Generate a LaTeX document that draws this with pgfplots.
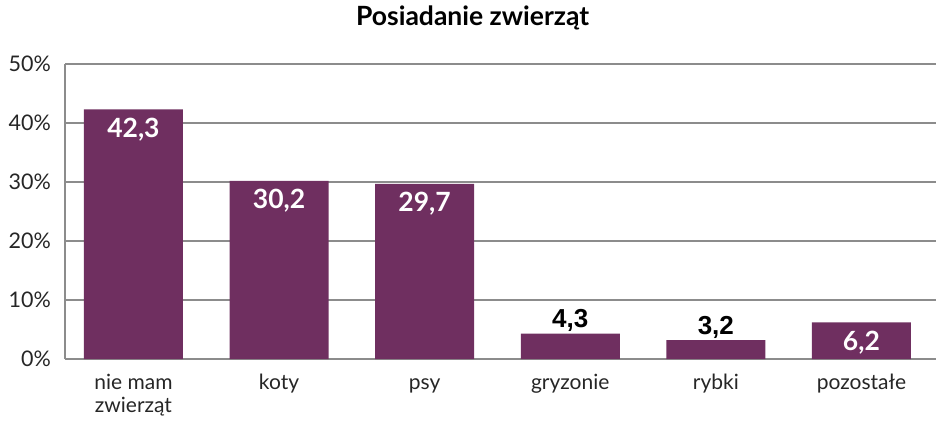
\documentclass[border=0pt]{standalone}
\usepackage{fontspec}
\setmainfont{Lato}
\newfontfamily\arialbf{Liberation Sans}
\usepackage{pgfplots}
\pgfplotsset{compat=1.18}
\definecolor{barc}{HTML}{6F2F60}
\definecolor{gridc}{HTML}{8C8C8C}
\begin{document}
\begin{tikzpicture}
\useasboundingbox (0,0) rectangle (936pt,440pt);
\begin{axis}[
  at={(65pt,81pt)}, anchor=south west,
  scale only axis, width=871pt, height=295pt,
  xmin=-0.47, xmax=5.512, ymin=0, ymax=50,
  ytick={0,10,20,30,40,50},
  yticklabels={0\%,10\%,20\%,30\%,40\%,50\%},
  xtick={0,1,2,3,4,5},
  xticklabels={{\strut nie mam\\zwierząt},\strut koty,\strut psy,\strut gryzonie,\strut rybki,\strut pozostałe},
  xticklabel style={align=center, font=\fontsize{21}{23}\selectfont, text=black!85},
  yticklabel style={font=\fontsize{21.5}{24}\selectfont, text=black!85},
  major tick length=0pt,
  xtick style={draw=none}, ytick style={draw=none},
  ymajorgrids, grid style={gridc, line width=1.5pt},
  axis x line*=bottom, axis y line*=left,
  axis line style={gridc, line width=1.5pt, -},
  x tick label style={yshift=-10.5pt},
  y tick label style={xshift=-10.7pt},
  title={\bfseries Posiadanie zwierząt},
  title style={font=\fontsize{26.5}{30}\selectfont, at={(0.468,1)}, anchor=base, yshift=33pt},
  ybar, bar width=99pt,
  clip=false,
]
\addplot[fill=barc, draw=none, bar shift=0pt,
  point meta=explicit symbolic,
  nodes near coords,
  nodes near coords style={anchor=base, text=white, font=\fontsize{26.5}{30}\selectfont\bfseries, yshift=-28pt}]
  table[meta=lab] {
x y lab
0 42.3 42,3
1 30.2 30,2
2 29.7 29,7
5 6.2 6,2
};
\addplot[fill=barc, draw=none, bar shift=0pt,
  point meta=explicit symbolic,
  nodes near coords,
  nodes near coords style={anchor=base, text=black, font=\arialbf\fontsize{26}{30}\selectfont\bfseries, yshift=6pt}]
  table[meta=lab] {
x y lab
3 4.3 4,3
4 3.2 3,2
};
\end{axis}
\end{tikzpicture}
\end{document}
